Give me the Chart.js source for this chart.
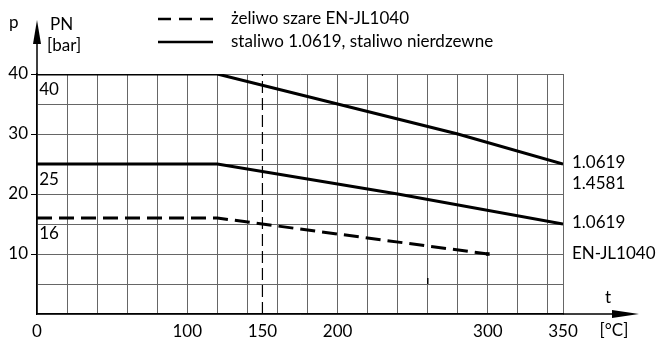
<!DOCTYPE html>
<html>
<head>
<meta charset="utf-8">
<script src="https://cdn.jsdelivr.net/npm/chart.js@4"></script>
<style>
  body { margin: 0; background: #fff; }
  #wrap { width: 658px; height: 340px; }
</style>
</head>
<body>
<div id="wrap"><canvas id="pt-chart"></canvas></div>
<script>
// temperature [°C] / pressure [bar]
const tempSteel40 = [0, 120, 200, 280, 350];
const presSteel40 = [40, 40, 35, 30, 25];
const tempSteel25 = [0, 120, 240, 350];
const presSteel25 = [25, 25, 20, 15];
const tempIron16 = [0, 120, 300];
const presIron16 = [16, 16, 10];
const limitTemp = 150;

const xGridTicks = [0, 20, 40, 60, 80, 100, 120, 140, 150, 160, 180, 200, 220, 240, 260, 280, 300, 320, 340, 350];
const xLabelTicks = [0, 100, 150, 200, 300, 350];
const yLabelTicks = [10, 20, 30, 40];

const pnLabels = ['40', '25', '16'];
const pnLabelValues = [40, 25, 16];
const materialLabels = ['1.0619', '1.4581', '1.0619', 'EN-JL1040'];
const materialLabelValues = [25.3, 21.8, 15.3, 10];

const legendLabels = ['żeliwo szare EN-JL1040', 'staliwo 1.0619, staliwo nierdzewne'];

const FONT = 'Lato, "Noto Sans", sans-serif';
const toPoints = (xs, ys) => xs.map((x, i) => ({x: x, y: ys[i]}));

const extras = {
    id: 'extras',
    afterDraw(chart) {
        const ctx = chart.ctx;
        const xs = chart.scales.x, ys = chart.scales.y;
        const area = chart.chartArea;
        ctx.save();
        ctx.fillStyle = '#000';
        ctx.strokeStyle = '#000';

        // axis arrows
        ctx.lineWidth = 1.5;
        ctx.beginPath();
        ctx.moveTo(area.left, area.top);
        ctx.lineTo(area.left, 40);
        ctx.moveTo(area.right, area.bottom);
        ctx.lineTo(614, area.bottom);
        ctx.stroke();
        ctx.beginPath();
        ctx.moveTo(area.left, 20);
        ctx.lineTo(area.left - 4, 44);
        ctx.lineTo(area.left + 4, 44);
        ctx.closePath();
        ctx.fill();
        ctx.beginPath();
        ctx.moveTo(639, area.bottom);
        ctx.lineTo(612, area.bottom - 4);
        ctx.lineTo(612, area.bottom + 4);
        ctx.closePath();
        ctx.fill();

        ctx.font = '17px ' + FONT;
        ctx.textBaseline = 'middle';
        ctx.textAlign = 'left';
        ctx.fillText('p', 9, 23);
        ctx.fillText('PN', 50, 25);
        ctx.fillText('[bar]', 47, 46);
        ctx.textAlign = 'center';
        ctx.fillText('t', 608, 298);
        ctx.fillText('[°C]', 614, 331);

        // PN labels inside the grid
        ctx.textAlign = 'left';
        ctx.textBaseline = 'top';
        pnLabels.forEach((txt, i) => {
            ctx.fillText(txt, xs.getPixelForValue(1.5), ys.getPixelForValue(pnLabelValues[i]) + 7);
        });

        // material labels on the right
        ctx.textBaseline = 'middle';
        materialLabels.forEach((txt, i) => {
            ctx.fillText(txt, area.right + 9, ys.getPixelForValue(materialLabelValues[i]));
        });

        // legend
        const lx = 158, lw = 55;
        chart.data.datasets.filter(d => d.legendRow !== undefined).forEach(d => {
            const ly = d.legendRow === 0 ? 19 : 42;
            ctx.lineWidth = 2.5;
            ctx.setLineDash(d.legendRow === 0 ? [13, 8] : []);
            ctx.beginPath();
            ctx.moveTo(lx, ly);
            ctx.lineTo(lx + lw, ly);
            ctx.stroke();
            ctx.setLineDash([]);
            ctx.fillText(legendLabels[d.legendRow], 231, ly);
        });
        ctx.restore();
    }
};

new Chart(document.getElementById('pt-chart'), {
    type: 'line',
    data: {
        datasets: [{
            data: toPoints(tempIron16, presIron16),
            borderColor: '#000',
            borderWidth: 3,
            borderDash: [15, 7],
            pointRadius: [0, 0, 2.5],
            pointStyle: 'rect',
            pointBackgroundColor: '#000',
            pointBorderWidth: 0,
            legendRow: 0
        },
        {
            data: toPoints(tempSteel40, presSteel40),
            borderColor: '#000',
            borderWidth: 3,
            pointRadius: 0,
            legendRow: 1
        },
        {
            data: toPoints(tempSteel25, presSteel25),
            borderColor: '#000',
            borderWidth: 3,
            pointRadius: 0
        },
        {
            data: [{x: limitTemp, y: 0}, {x: limitTemp, y: 40}],
            borderColor: '#000',
            borderWidth: 1.2,
            borderDash: [12, 5],
            pointRadius: 0
        },
        {
            data: [{x: 260, y: 5}, {x: 260, y: 6}],
            borderColor: '#000',
            borderWidth: 1.5,
            pointRadius: 0
        }]
    },
    options: {
        responsive: true,
        maintainAspectRatio: false,
        animation: false,
        layout: {
            padding: {top: 74, right: 95, left: 0, bottom: 0}
        },
        plugins: {
            legend: {display: false},
            tooltip: {enabled: false}
        },
        scales: {
            x: {
                type: 'linear',
                min: 0,
                max: 350,
                afterBuildTicks: (scale) => {
                    scale.ticks = xGridTicks.map(v => ({value: v}));
                },
                afterFit: (scale) => { scale.height = 26; },
                ticks: {
                    autoSkip: false,
                    maxRotation: 0,
                    padding: 7,
                    color: '#000',
                    font: {family: FONT, size: 17},
                    callback: (v) => xLabelTicks.includes(v) ? String(v) : ''
                },
                grid: {
                    color: (c) => c.tick && c.tick.value === limitTemp ? 'rgba(0,0,0,0)' : '#666',
                    lineWidth: 1,
                    drawTicks: false
                },
                border: {color: '#000', width: 1.5}
            },
            y: {
                min: 0,
                max: 40,
                afterFit: (scale) => { scale.width = 37; },
                ticks: {
                    stepSize: 5,
                    padding: 3,
                    color: '#000',
                    font: {family: FONT, size: 17},
                    callback: (v) => yLabelTicks.includes(v) ? String(v) : ''
                },
                grid: {
                    color: '#666',
                    lineWidth: 1,
                    tickLength: 6,
                    tickColor: (c) => c.tick && yLabelTicks.includes(c.tick.value) ? '#000' : 'rgba(0,0,0,0)'
                },
                border: {color: '#000', width: 1.5}
            }
        }
    },
    plugins: [extras]
});
</script>
</body>
</html>
